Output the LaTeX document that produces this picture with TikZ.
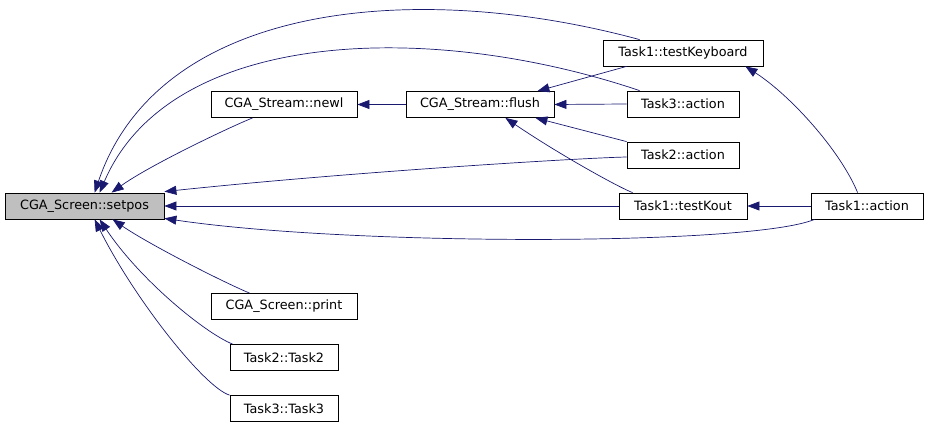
\documentclass[tikz,border=0pt]{standalone}
\usepackage{fontspec}
\setmainfont{DejaVu Sans}
\usepackage{xcolor}
\usepackage{tikz}
\usetikzlibrary{arrows.meta}
\definecolor{edgeblue}{HTML}{191970}
\definecolor{hilite}{HTML}{BFBFBF}

\begin{document}
\begin{tikzpicture}[x=1pt,y=-1pt,
  fn/.style={draw,line width=0.8pt,inner sep=0pt,minimum height=26pt,font=\fontsize{12.8}{15}\selectfont},
  call/.style={draw=edgeblue,line width=0.7pt,-{Triangle[length=12pt,width=9pt]},edgeblue}]
  \useasboundingbox (0,0) rectangle (928,427);
  \node[fn,fill=hilite,minimum width=159pt] (setpos) at (84.5,206) {CGA\_Screen::setpos};
  \node[fn,minimum width=146pt] (newl) at (284,104.5) {CGA\_Stream::newl};
  \node[fn,minimum width=148pt] (flush) at (480,104.5) {CGA\_Stream::flush};
  \node[fn,minimum width=160pt] (kbd) at (683,53) {Task1::testKeyboard};
  \node[fn,minimum width=112pt] (t3act) at (683,104) {Task3::action};
  \node[fn,minimum width=112pt] (t2act) at (683,155) {Task2::action};
  \node[fn,minimum width=128pt] (kout) at (683,206) {Task1::testKout};
  \node[fn,minimum width=112pt] (t1act) at (867,206) {Task1::action};
  \node[fn,minimum width=146pt] (print) at (284,306.5) {CGA\_Screen::print};
  \node[fn,minimum width=108pt] (t2ctor) at (284,357.5) {Task2::Task2};
  \node[fn,minimum width=108pt] (t3ctor) at (284,408.5) {Task3::Task3};

  \draw[call] ([xshift=37pt]kbd.north west) .. controls (420,-20) and (160,0) .. ([xshift=90pt]setpos.north west);
  \draw[call] ([xshift=13pt]t3act.north west) .. controls (430,20) and (170,28) .. ([xshift=95pt]setpos.north west);
  \draw[call] ([xshift=42pt]newl.south west) .. controls (230,127) and (150,165) .. ([xshift=107pt]setpos.north west);
  \draw[call] ([yshift=-2pt]t2act.west) .. controls (580,158) and (350,172) .. ([yshift=1pt]setpos.north east);
  \draw[call] (kout.west) -- (setpos.east);
  \draw[call] ([xshift=4pt]t1act.south west) .. controls (750,246) and (350,246) .. ([yshift=1pt]setpos.south east);
  \draw[call] ([xshift=39pt]print.north west) .. controls (225,283) and (150,245) .. ([xshift=108pt]setpos.south west);
  \draw[call] ([xshift=3pt]t2ctor.north west) .. controls (205,333) and (140,280) .. ([xshift=95pt]setpos.south west);
  \draw[call] (t3ctor.north west) .. controls (205,388) and (135,300) .. ([xshift=90pt]setpos.south west);

  \draw[call] (flush.west) -- (newl.east);
  \draw[call] ([xshift=24pt]kbd.south west) -- ([xshift=-17pt]flush.north east);
  \draw[call] (t3act.west) -- (flush.east);
  \draw[call] (t2act.north west) -- ([xshift=-19pt]flush.south east);
  \draw[call] ([xshift=14pt]kout.north west) .. controls (620,188) and (560,155) .. ([xshift=-49pt]flush.south east);
  \draw[call] ([xshift=47pt]t1act.north west) .. controls (840,150) and (790,95) .. ([xshift=-18pt]kbd.south east);
  \draw[call] (t1act.west) -- (kout.east);
\end{tikzpicture}
\end{document}
